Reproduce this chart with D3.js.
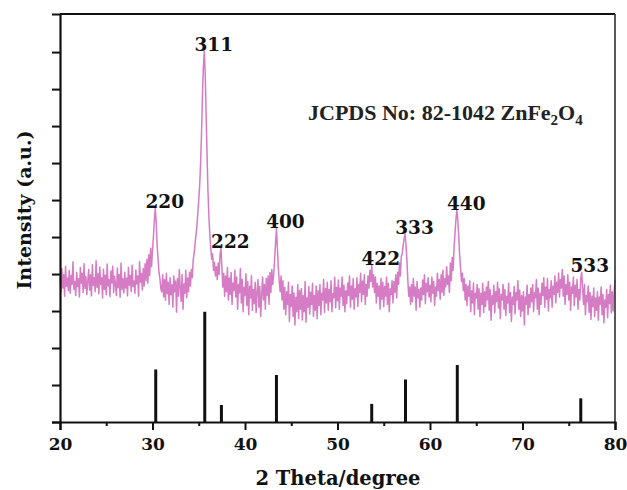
<!DOCTYPE html>
<html>
<head>
<meta charset="utf-8">
<script src="https://cdn.jsdelivr.net/npm/d3@7"></script>
<style>body{margin:0;background:#fff}</style>
</head>
<body>
<div id="chart"></div>
<script>
const thetaStart = 20, thetaStep = 0.1;
const intensity = [
  392,351,415,362,398,340,421,367,389,355,
  410,348,396,372,433,359,380,342,405,366,
  387,338,418,375,402,350,428,361,393,345,
  379,412,356,398,341,425,369,390,352,436,
  364,401,347,419,372,390,335,413,358,397,
  344,427,368,385,339,408,376,421,350,394,
  371,342,416,363,399,337,430,358,387,349,
  405,362,389,341,418,370,396,353,424,366,
  381,348,411,373,395,340,434,378,402,357,
  415,368,428,382,440,375,452,396,470,420,
  465,500,545,578,540,480,440,405,388,360,
  352,398,338,385,329,402,347,378,318,390,
  344,371,310,395,352,381,297,388,340,412,
  361,326,399,305,374,348,410,336,389,352,
  405,368,412,390,438,455,482,505,530,565,
  600,640,700,780,880,960,1003,940,830,720,
  620,555,505,470,440,455,410,432,395,420,
  385,430,398,452,470,418,365,402,340,395,
  352,418,330,389,345,404,318,376,355,410,
  338,392,305,372,349,415,322,386,298,364,
  342,401,315,380,290,367,335,396,302,358,
  320,378,296,351,385,310,366,285,343,392,
  330,372,305,388,342,395,318,404,350,412,
  372,398,440,482,524,470,418,380,352,395,
  330,382,305,364,290,352,318,378,272,345,
  312,368,285,349,262,337,298,372,280,356,
  305,361,276,342,298,380,270,335,310,366,
  292,351,318,375,285,342,302,368,279,355,
  315,372,290,348,330,385,296,361,322,378,
  302,358,325,382,298,347,336,391,309,364,
  328,384,305,362,340,392,315,370,298,355,
  320,376,342,395,310,368,332,388,305,360,
  338,390,312,372,350,402,326,381,345,398,
  318,372,340,395,362,410,380,424,365,398,
  350,392,322,375,340,368,305,388,332,378,
  312,366,340,392,318,375,298,360,345,382,
  322,380,350,398,335,405,372,430,395,448,
  455,478,495,508,482,440,385,340,365,318,
  372,325,388,340,365,302,380,335,358,310,
  362,330,384,345,398,320,375,352,390,338,
  370,325,392,348,380,315,365,340,402,355,
  385,332,398,350,410,342,388,365,420,372,
  395,350,430,382,445,410,472,510,545,573,
  548,505,452,418,380,402,355,388,330,372,
  315,368,340,382,298,355,322,376,290,348,
  335,372,305,360,285,348,318,375,296,352,
  312,365,330,380,302,358,275,342,318,370,
  295,352,325,378,308,360,280,345,330,372,
  305,358,288,340,322,375,296,350,272,338,
  318,366,292,350,330,382,305,356,285,342,
  300,352,262,338,318,370,290,345,310,362,
  325,372,298,350,336,385,305,362,290,348,
  318,375,342,390,310,365,332,388,300,358,
  335,382,310,368,345,395,322,378,350,402,
  338,385,362,412,340,395,318,372,345,398,
  330,378,302,365,348,392,315,370,338,385,
  305,358,330,388,405,360,318,372,290,342,
  325,368,296,350,278,340,312,362,285,335,
  302,352,275,338,318,365,290,345,268,330,
  310,358,282,345,320,370,295,352,300,348,
  385
];

// JCPDS 82-1042 reference lines
const refPos = [30.35, 35.65, 37.45, 43.4, 53.7, 57.35, 62.95, 76.3];
const refInt = [142, 298, 46, 127, 49, 115, 154, 64];
const hkl = ["220", "311", "222", "400", "422", "333", "440", "533"];

const xMajor = [20, 30, 40, 50, 60, 70, 80];
const xMinor = [25, 35, 45, 55, 65, 75];
const yTicks = [0, 100, 200, 300, 400, 500, 600, 700, 800, 900, 1000];

const width = 627, height = 490;
const pink = "#d57cc4";

const x = d3.scaleLinear().domain([20, 80]).range([60, 615]);
const y = d3.scaleLinear().domain([0, 1103]).range([422, 14]);

const svg = d3.select("#chart").append("svg")
    .attr("width", width)
    .attr("height", height)
    .attr("viewBox", [0, 0, width, height]);

const pts = intensity.map((v, i) => [thetaStart + i * thetaStep, v]);

svg.append("path")
    .datum(pts)
    .attr("fill", "none")
    .attr("stroke", pink)
    .attr("stroke-width", 1.5)
    .attr("stroke-linejoin", "round")
    .attr("d", d3.line().x(d => x(d[0])).y(d => y(d[1])));

// reference sticks
svg.selectAll("line.ref")
    .data(refPos)
    .join("line")
    .attr("class", "ref")
    .attr("x1", d => x(d)).attr("x2", d => x(d))
    .attr("y1", y(0))
    .attr("y2", (d, i) => y(refInt[i]))
    .attr("stroke", "#111")
    .attr("stroke-width", 3);

// hkl labels sit on top of the local maximum of the pattern
const localMax = p => d3.max(pts.filter(d => Math.abs(d[0] - p) <= 0.3), d => d[1]);
svg.selectAll("text.hkl")
    .data(refPos)
    .join("text")
    .attr("class", "hkl")
    .attr("x", d => x(d) + 9)
    .attr("y", d => y(localMax(d)))
    .attr("text-anchor", "middle")
    .style("font", "bold 18.5px 'DejaVu Serif'")
    .attr("fill", "#111")
    .text((d, i) => hkl[i]);

// frame
svg.append("line").attr("x1", 60).attr("x2", 615).attr("y1", 14).attr("y2", 14)
    .attr("stroke", "#111").attr("stroke-width", 2);
svg.append("line").attr("x1", 615).attr("x2", 615).attr("y1", 14).attr("y2", 422)
    .attr("stroke", "#222").attr("stroke-width", 1.5);

// axes
const xAxis = svg.append("g")
    .attr("transform", `translate(0,${y(0)})`)
    .call(d3.axisBottom(x).tickValues(xMajor).tickSize(8).tickPadding(8).tickFormat(d3.format("d")));
svg.append("g")
    .attr("transform", `translate(0,${y(0)})`)
    .call(d3.axisBottom(x).tickValues(xMinor).tickSize(4).tickFormat(""))
    .call(g => g.select(".domain").remove());
const yAxis = svg.append("g")
    .attr("transform", `translate(${x(20)},0)`)
    .call(d3.axisLeft(y).tickValues(yTicks).tickSize(8).tickFormat(""));

svg.selectAll(".domain").attr("stroke", "#111").attr("stroke-width", 2.2);
svg.selectAll(".tick line").attr("stroke", "#111").attr("stroke-width", 2);
xAxis.selectAll("text")
    .style("font", "bold 17px 'DejaVu Serif'")
    .attr("fill", "#111");

svg.append("text")
    .attr("x", 338).attr("y", 485)
    .attr("text-anchor", "middle")
    .style("font", "bold 19.5px 'DejaVu Serif'")
    .attr("fill", "#111")
    .text("2 Theta/degree");

svg.append("text")
    .attr("transform", "translate(31,210) rotate(-90)")
    .attr("text-anchor", "middle")
    .style("font", "bold 19px 'DejaVu Serif'")
    .attr("fill", "#111")
    .text("Intensity (a.u.)");

const note = svg.append("text")
    .attr("x", 308).attr("y", 120)
    .style("font", "bold 22px 'Liberation Serif'")
    .attr("fill", "#222");
note.append("tspan").text("JCPDS No: 82-1042 ZnFe");
note.append("tspan").attr("dy", 5).style("font-size", "15px").text("2");
note.append("tspan").attr("dy", -5).text("O");
note.append("tspan").attr("dy", 5).style("font-size", "15px").text("4");
</script>
</body>
</html>
